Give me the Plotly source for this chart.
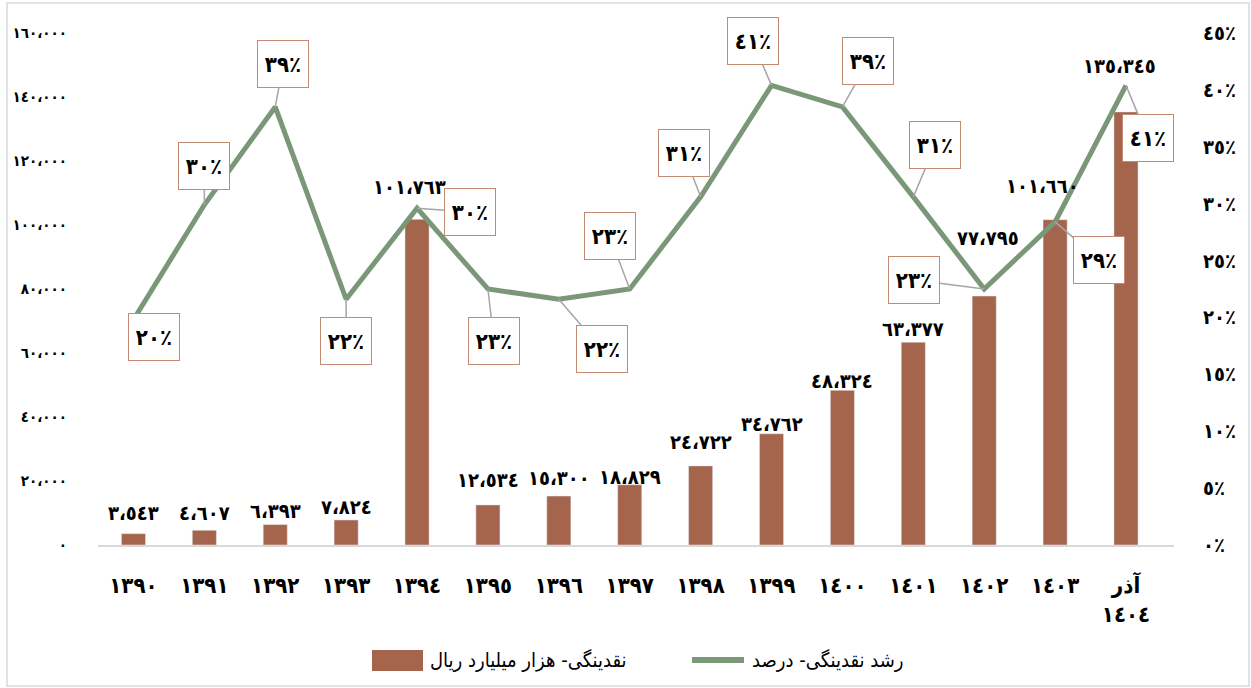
import plotly.graph_objects as go

# data
years = ["۱۳۹۰", "۱۳۹۱", "۱۳۹۲", "۱۳۹۳", "۱۳۹٤", "۱۳۹٥", "۱۳۹٦", "۱۳۹۷",
         "۱۳۹۸", "۱۳۹۹", "۱٤۰۰", "۱٤۰۱", "۱٤۰۲", "۱٤۰۳", "آذر<br>۱٤۰٤"]
liquidity = [3543, 4607, 6393, 7824, 101763, 12534, 15300, 18829,
             24722, 34762, 48324, 63377, 77795, 101660, 135345]
growth = [19.8, 29.9, 38.5, 21.6, 29.6, 22.5, 21.6, 22.5,
          30.6, 40.4, 38.5, 30.6, 22.5, 28.4, 40.4]
growth_labels = [20, 30, 39, 22, 30, 23, 22, 23, 31, 41, 39, 31, 23, 29, 41]
left_ticks = [0, 20000, 40000, 60000, 80000, 100000, 120000, 140000, 160000]
right_ticks = [0, 5, 10, 15, 20, 25, 30, 35, 40, 45]

bar_name = "نقدینگی- هزار میلیارد ریال"
line_name = "رشد نقدینگی- درصد"

BAR = "#a5654d"
LINE = "#7a9777"
FONT = "DejaVu Sans Condensed, DejaVu Sans"

DIG = str.maketrans("0123456789,", "٠١٢٣٤٥٦٧٨٩،")


def ar(n, sep=True):
    s = f"{n:,}" if sep else str(n)
    return s.translate(DIG)


fig = go.Figure()
fig.add_trace(go.Bar(x=years, y=liquidity, marker_color=BAR, name=bar_name,
                     showlegend=False))
fig.add_trace(go.Scatter(x=years, y=growth, yaxis="y2", mode="lines",
                         line=dict(color=LINE, width=5), name=line_name,
                         showlegend=False))

# bar value labels, shifted like the original (pixels above bar top)
bar_shift = [21, 17, 14, 13, 32, 25, 18, 8, 24, 10, 9, 13, 58, 34, 46]
bar_xshift = [0, 0, 0, 0, -8, 0, 0, 0, 0, 0, 0, 0, 4, -13, -7]
for i, v in enumerate(liquidity):
    fig.add_annotation(x=years[i], y=v, text=ar(v), showarrow=False,
                       yshift=bar_shift[i], xshift=bar_xshift[i],
                       font=dict(family=FONT, size=20, color="black", weight="bold"))

# growth labels in boxes with leader lines
box_off = [(21, 17), (0, -39), (8, -43), (0, 42), (53, 4), (6, 52), (43, 50),
           (-20, -53), (-17, -44), (-19, -44), (26, -46), (22, -52), (-70, -9),
           (44, 38), (22, 53)]
for i, g in enumerate(growth):
    ax, ay = box_off[i]
    fig.add_annotation(x=years[i], y=g, yref="y2", text=ar(growth_labels[i]) + "٪",
                       showarrow=True, arrowhead=0, arrowwidth=1.5,
                       arrowcolor="#a6a6a6", ax=ax, ay=ay, standoff=0,
                       width=46, height=42, borderpad=2,
                       bgcolor="white", bordercolor="#c48a74", borderwidth=1,
                       font=dict(family=FONT, size=22, color="black", weight="bold"))

# custom legend
L, R, T, B = 98, 1174, 33, 545


def px(x):
    return (x - L) / (R - L)


def py(y):
    return (B - y) / (B - T)


fig.add_shape(type="rect", xref="paper", yref="paper",
              x0=px(372), x1=px(423), y0=py(671), y1=py(650),
              fillcolor=BAR, line=dict(width=0))
fig.add_annotation(xref="paper", yref="paper", x=px(428), y=py(660),
                   xanchor="left", yanchor="middle", showarrow=False,
                   text=bar_name, font=dict(family=FONT, size=20, color="black"))
fig.add_shape(type="line", xref="paper", yref="paper",
              x0=px(692), x1=px(744), y0=py(660), y1=py(660),
              line=dict(color=LINE, width=6))
fig.add_annotation(xref="paper", yref="paper", x=px(750), y=py(660),
                   xanchor="left", yanchor="middle", showarrow=False,
                   text=line_name, font=dict(family=FONT, size=20, color="black"))

# outer border
fig.add_shape(type="rect", xref="paper", yref="paper",
              x0=px(7), x1=px(1249), y0=py(686), y1=py(3),
              line=dict(color="#d9d9d9", width=1.5), layer="below")

fig.update_layout(
    width=1251, height=688,
    margin=dict(l=L, r=1251 - R, t=T, b=688 - B),
    plot_bgcolor="white", paper_bgcolor="white",
    bargap=0.66,
    font=dict(family=FONT, size=17, color="black"),
    xaxis=dict(showgrid=False, showline=True, linecolor="#d9d9d9", linewidth=2,
               ticks="", ticklabelstandoff=20, automargin=False,
               tickfont=dict(family=FONT, size=22, weight="bold")),
    yaxis=dict(range=[0, 160000], showgrid=False, zeroline=False,
               tickvals=left_ticks, ticktext=[ar(t) for t in left_ticks],
               ticklabelstandoff=30, automargin=False,
               tickfont=dict(family=FONT, size=15, weight="bold")),
    yaxis2=dict(range=[0, 45], overlaying="y", side="right", showgrid=False,
                zeroline=False, tickvals=right_ticks,
                ticktext=[ar(t) + "٪" for t in right_ticks],
                ticklabelstandoff=28, automargin=False,
                tickfont=dict(family=FONT, size=20, weight="bold")),
)

fig.write_html("out.html", config={"displayModeBar": False},
               post_script="document.body.style.margin='0';")
